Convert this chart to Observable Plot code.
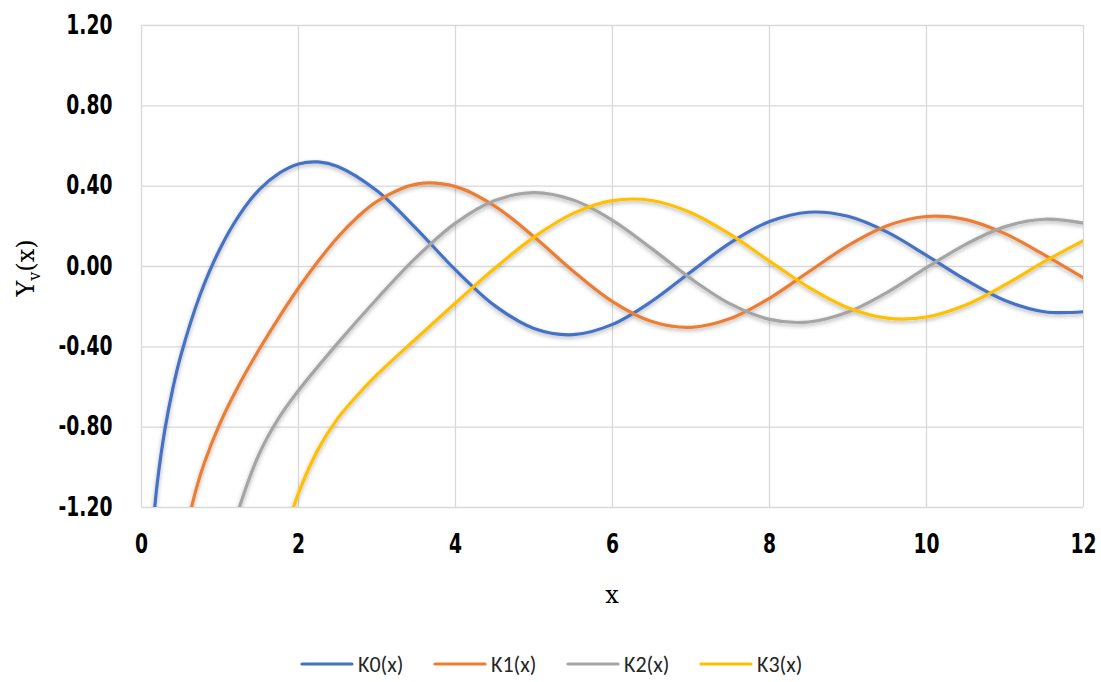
<!DOCTYPE html>
<html>
<head>
<meta charset="utf-8">
<script src="https://cdn.jsdelivr.net/npm/d3@7"></script>
<script src="https://cdn.jsdelivr.net/npm/@observablehq/plot@0.6"></script>
<style>
  html, body { margin: 0; padding: 0; background: #fff; }
  #chart { width: 1101px; height: 612px; }
  #legend { position: absolute; left: 0; top: 649px; width: 1101px; height: 30px; }
</style>
</head>
<body>
<div id="chart"></div>
<div id="legend"></div>
<script>
// Series names and colours
const seriesNames = ["K0(x)", "K1(x)", "K2(x)", "K3(x)"];
const seriesColors = ["#4472C4", "#ED7D31", "#A5A5A5", "#FFC000"];

// Values
const k0x = [0.15, 0.2, 0.3, 0.4, 0.5, 0.75, 1.0, 1.25, 1.5, 1.75, 2.0, 2.25, 2.5, 3.0, 3.5, 4.0, 4.5, 5.0, 5.5, 6.0, 6.5, 7.0, 7.5, 8.0, 8.5, 9.0, 9.5, 10.0, 10.5, 11.0, 11.5, 12.0];
const k0y = [-1.2816, -1.0811, -0.8073, -0.6060, -0.4445, -0.1372, 0.0883, 0.2582, 0.3824, 0.4634, 0.5104, 0.5207, 0.4981, 0.3769, 0.1890, -0.0169, -0.1947, -0.3085, -0.3395, -0.2882, -0.1732, -0.0259, 0.1173, 0.2235, 0.2702, 0.2499, 0.1712, 0.0557, -0.0660, -0.1688, -0.2252, -0.2252];

const k1x = [0.6, 0.7, 0.8, 1.0, 1.25, 1.5, 1.75, 2.0, 2.25, 2.5, 2.75, 3.0, 3.5, 4.0, 4.5, 5.0, 5.5, 6.0, 6.5, 7.0, 7.5, 8.0, 8.5, 9.0, 9.5, 10.0, 10.5, 11.0, 11.5, 12.0];
const k1y = [-1.2604, -1.1032, -0.9781, -0.7812, -0.5844, -0.4123, -0.2540, -0.1070, 0.0260, 0.1459, 0.2450, 0.3247, 0.4102, 0.3979, 0.3010, 0.1479, -0.0238, -0.1750, -0.2741, -0.3027, -0.2591, -0.1581, -0.0262, 0.1043, 0.2032, 0.2490, 0.2337, 0.1637, 0.0577, -0.0571];

const k2x = [1.2, 1.25, 1.5, 1.75, 2.0, 2.5, 3.0, 3.5, 4.0, 4.5, 5.0, 5.5, 6.0, 6.5, 7.0, 7.5, 8.0, 8.5, 9.0, 9.5, 10.0, 10.5, 11.0, 11.5, 12.0];
const k2y = [-1.2635, -1.1950, -0.9322, -0.7537, -0.6174, -0.3814, -0.1604, 0.0454, 0.2159, 0.3285, 0.3677, 0.3308, 0.2299, 0.0889, -0.0606, -0.1864, -0.2630, -0.2764, -0.2267, -0.1284, -0.0059, 0.1105, 0.1986, 0.2352, 0.2157];

const k3x = [1.9, 2.0, 2.25, 2.5, 2.75, 3.0, 3.5, 4.0, 4.5, 5.0, 5.5, 6.0, 6.5, 7.0, 7.5, 8.0, 8.5, 9.0, 9.5, 10.0, 10.5, 11.0, 11.5, 12.0];
const k3y = [-1.2447, -1.1278, -0.9106, -0.7561, -0.6412, -0.5386, -0.3583, -0.1820, -0.0090, 0.1463, 0.2644, 0.3283, 0.3288, 0.2681, 0.1597, 0.0266, -0.1039, -0.2051, -0.2573, -0.2514, -0.1916, -0.0915, 0.0241, 0.1290];

// Tick values
const xTicks = [0, 2, 4, 6, 8, 10, 12];
const yTicks = [-1.2, -0.8, -0.4, 0, 0.4, 0.8, 1.2];

const xsList = [k0x, k1x, k2x, k3x];
const ysList = [k0y, k1y, k2y, k3y];
const rows = [];
seriesNames.forEach((name, i) => {
  xsList[i].forEach((x, j) => rows.push({series: name, x, y: ysList[i][j]}));
});

const tickFont = `"DejaVu Sans", "Liberation Sans", sans-serif`;
const SX = 0.72;

const plot = Plot.plot({
  width: 1101,
  height: 612,
  marginLeft: 141,
  marginRight: 18,
  marginTop: 25,
  marginBottom: 105,
  style: {background: "#fff", overflow: "visible"},
  x: {domain: [0, 12], ticks: xTicks, label: null},
  y: {domain: [-1.2, 1.2], ticks: yTicks, label: null},
  color: {domain: seriesNames, range: seriesColors},
  marks: [
    Plot.gridX(xTicks, {stroke: "#d9d9d9", strokeOpacity: 1, strokeWidth: 1.3}),
    Plot.gridY(yTicks, {stroke: "#d9d9d9", strokeOpacity: 1, strokeWidth: 1.3}),
    Plot.axisX({ticks: xTicks, tickSize: 0, tickPadding: 27, tickFormat: d => String(d), fontSize: 26, fontWeight: "bold", fontFamily: tickFont, fill: "#000", className: "tickx"}),
    Plot.axisY({ticks: yTicks, tickSize: 0, tickPadding: 29, tickFormat: d => d.toFixed(2), fontSize: 26, fontWeight: "bold", fontFamily: tickFont, fill: "#000", className: "ticky"}),
    Plot.line(rows, {x: "x", y: "y", z: "series", stroke: "series", strokeWidth: 3.2, curve: "catmull-rom", clip: true, className: "kline"})
  ]
});

const svg = d3.select(plot);

// condense tick labels horizontally (Agency-like narrow bold digits)
svg.selectAll("g.tickx text, g.ticky text").each(function() {
  const t = d3.select(this);
  const tr = t.attr("transform") || "";
  t.attr("transform", tr + ` scale(${SX},1)`);
  ["x", "dx"].forEach(a => {
    const v = t.attr(a);
    if (v != null && v !== "" && !isNaN(parseFloat(v)) && !/em$/.test(v)) t.attr(a, parseFloat(v) / SX);
  });
});

// drop shadow for lines (Excel style)
const defs = svg.insert("defs", ":first-child");
const f = defs.append("filter").attr("id", "shadow").attr("x", "-10%").attr("y", "-10%").attr("width", "120%").attr("height", "130%");
f.append("feDropShadow").attr("dx", 0).attr("dy", 2).attr("stdDeviation", 2).attr("flood-color", "#000").attr("flood-opacity", 0.3);
svg.selectAll("g.kline").attr("filter", "url(#shadow)");

// axis titles
svg.append("text")
  .attr("x", 612).attr("y", 603)
  .attr("text-anchor", "middle")
  .attr("font-family", `"DejaVu Serif", "Liberation Serif", serif`)
  .attr("font-size", 24).attr("fill", "#000")
  .text("x");

const yt = svg.append("text")
  .attr("transform", "translate(34,268) rotate(-90)")
  .attr("text-anchor", "middle")
  .attr("font-family", `"DejaVu Serif", "Liberation Serif", serif`)
  .attr("font-size", 24).attr("fill", "#000");
yt.append("tspan").text("Y");
yt.append("tspan").attr("font-size", 16).attr("dy", 6).text("v");
yt.append("tspan").attr("dy", -6).text("(x)");

document.getElementById("chart").appendChild(plot);

// legend
const lg = d3.select("#legend").append("svg").attr("width", 1101).attr("height", 30);
const legendX = [300, 433, 566, 699];
seriesNames.forEach((name, i) => {
  const g = lg.append("g").attr("transform", `translate(${legendX[i]},15)`);
  g.append("line").attr("x1", 2).attr("x2", 52).attr("y1", 0).attr("y2", 0)
    .attr("stroke", seriesColors[i]).attr("stroke-width", 3.2).attr("stroke-linecap", "round");
  g.append("text").attr("x", 58).attr("y", 0).attr("dy", "0.35em")
    .attr("font-family", `Carlito, "Open Sans", "Noto Sans", sans-serif`)
    .attr("font-size", 22).attr("fill", "#262626").text(name);
});
</script>
</body>
</html>
